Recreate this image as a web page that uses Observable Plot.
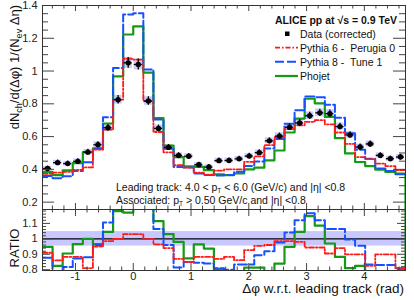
<!DOCTYPE html>
<html><head><meta charset="utf-8">
<script src="https://cdn.jsdelivr.net/npm/d3@7"></script>
<script src="https://cdn.jsdelivr.net/npm/@observablehq/plot@0.6"></script>
<style>
body{margin:0;background:#fff;}
#chart{position:relative;width:414px;height:300px;overflow:hidden;font-family:"Liberation Sans",Arial,sans-serif;}
#chart svg{position:absolute;left:0;}
</style></head><body><div id="chart"></div>
<script>
// ---- data ----
const nBins = 36;
const xMin = -Math.PI / 2, xMax = 3 * Math.PI / 2;
const dataVals = [0.405,0.441,0.435,0.449,0.505,0.550,0.654,0.825,1.050,1.040,0.817,0.650,0.534,0.485,0.480,0.428,0.414,0.453,0.454,0.464,0.481,0.502,0.574,0.603,0.657,0.683,0.727,0.745,0.740,0.661,0.610,0.536,0.555,0.485,0.465,0.475];
const dataErr = [0.015,0.016,0.016,0.016,0.017,0.018,0.020,0.026,0.033,0.033,0.026,0.020,0.018,0.017,0.017,0.016,0.016,0.016,0.016,0.016,0.017,0.017,0.018,0.019,0.020,0.021,0.022,0.022,0.022,0.020,0.019,0.018,0.018,0.017,0.016,0.017];
const pythia6 = [0.372,0.380,0.385,0.397,0.412,0.520,0.642,0.825,1.075,1.070,0.817,0.628,0.504,0.425,0.410,0.380,0.368,0.392,0.400,0.400,0.446,0.479,0.548,0.596,0.646,0.669,0.690,0.700,0.675,0.625,0.555,0.475,0.462,0.435,0.420,0.395];
const pythia8 = [0.360,0.345,0.358,0.390,0.444,0.525,0.718,1.018,1.345,1.353,1.010,0.705,0.525,0.415,0.412,0.375,0.365,0.362,0.365,0.385,0.420,0.448,0.528,0.585,0.679,0.760,0.845,0.840,0.795,0.715,0.620,0.520,0.465,0.405,0.390,0.370];
const phojet = [0.385,0.365,0.394,0.438,0.505,0.528,0.680,0.967,1.223,1.272,0.990,0.713,0.545,0.475,0.419,0.415,0.395,0.370,0.365,0.375,0.400,0.410,0.455,0.515,0.625,0.710,0.831,0.803,0.720,0.590,0.497,0.445,0.420,0.398,0.384,0.374];
const ratioP6 = [0.910,0.860,0.883,0.883,0.810,0.950,0.985,1.000,1.030,1.030,1.000,0.964,0.940,0.870,0.850,0.883,0.883,0.870,0.883,0.862,0.927,0.955,0.960,0.985,0.985,0.980,0.944,0.944,0.905,0.940,0.900,0.900,0.825,0.900,0.900,0.810];
const ratioP8 = [0.877,0.780,0.818,0.873,0.880,0.960,1.106,1.230,1.280,1.300,1.240,1.063,0.960,0.815,0.850,0.845,0.840,0.810,0.800,0.834,0.834,0.894,0.920,0.976,1.041,1.120,1.165,1.120,1.063,1.063,0.996,0.955,0.834,0.830,0.830,0.810];
const ratioPho = [0.948,0.825,0.905,0.966,1.000,0.966,1.045,1.180,1.170,1.220,1.210,1.115,1.030,0.980,0.873,0.964,0.937,0.805,0.785,0.785,0.814,0.814,0.790,0.840,0.948,1.045,1.147,1.085,0.970,0.883,0.810,0.825,0.785,0.785,0.785,0.785];
const sysRel = 0.032;      // data systematic box (relative)
const bandHalf = 0.047;    // ratio-panel band half width
const xTickLabels = [-1, 0, 1, 2, 3, 4];
const yTickTop = [0.2, 0.4, 0.6, 0.8, 1.0, 1.2, 1.4];
const yTickRatio = [0.8, 0.9, 1.0, 1.1];
const legendTitle = "ALICE pp at √s = 0.9 TeV";
const seriesNames = ["Data (corrected)", "Pythia 6 -  Perugia 0", "Pythia 8 -  Tune 1", "Phojet"];

// ---- styling ----
const FONT = '"Liberation Sans", Arial, Helvetica, sans-serif';
const RED = "#ff1a1a", BLUE = "#1650ff", GREEN = "#149a14", BOXC = "#c8c8ff";
const W = 414, ML = 42, MR = 9;
const FW = W - ML - MR;

const bw = (xMax - xMin) / nBins;
const bins = dataVals.map((v, i) => ({lo: xMin + i * bw, hi: xMin + (i + 1) * bw, c: xMin + (i + 0.5) * bw, v, e: dataErr[i]}));
function steps(vals, tail) {
  const pts = [];
  vals.forEach((v, i) => { pts.push({x: xMin + i * bw, y: v}); pts.push({x: xMin + (i + 1) * bw, y: v}); });
  if (tail !== undefined) pts.push({x: xMax, y: tail});
  return pts;
}
const fmt = d3.format("~g");
const xMinor = d3.range(-1.4, 4.75, 0.2).map(d => +d.toFixed(2)).filter(d => Math.abs(d - Math.round(d)) > 1e-6);
function tickMarks(fh, yMaj, yMin, lenMaj, lenMin, xLenMaj, xLenMin, col) {
  return [
    Plot.ruleY(yMaj, {y: d => d, insetRight: FW - lenMaj, stroke: col}),
    Plot.ruleY(yMaj, {y: d => d, insetLeft: FW - lenMaj, stroke: col}),
    Plot.ruleY(yMin, {y: d => d, insetRight: FW - lenMin, stroke: col}),
    Plot.ruleY(yMin, {y: d => d, insetLeft: FW - lenMin, stroke: col}),
    Plot.ruleX(xTickLabels, {x: d => d, insetBottom: fh - xLenMaj, stroke: col}),
    Plot.ruleX(xTickLabels, {x: d => d, insetTop: fh - xLenMaj, stroke: col}),
    Plot.ruleX(xMinor, {x: d => d, insetBottom: fh - xLenMin, stroke: col}),
    Plot.ruleX(xMinor, {x: d => d, insetTop: fh - xLenMin, stroke: col})
  ];
}

// ---- top panel ----
const topMinor = d3.range(0.25, 1.4, 0.05).map(d => +d.toFixed(2)).filter(d => Math.abs(d * 5 - Math.round(d * 5)) > 1e-6);
const topFH = 204;
const topPlot = Plot.plot({
  width: W, height: 212, marginLeft: ML, marginRight: MR, marginTop: 5, marginBottom: 3,
  x: {domain: [xMin, xMax], axis: null},
  y: {domain: [0.155, 1.4], axis: null},
  style: {fontFamily: FONT, background: "transparent", overflow: "visible"},
  marks: [
    Plot.rect(bins, {x1: "lo", x2: "hi", y1: d => d.v * (1 - sysRel), y2: d => d.v * (1 + sysRel), fill: BOXC, insetLeft: 1, insetRight: 1}),
    Plot.line(steps(phojet, 0), {x: "x", y: "y", stroke: GREEN, strokeWidth: 2.2, clip: true}),
    Plot.line(steps(pythia8), {x: "x", y: "y", stroke: BLUE, strokeWidth: 2, strokeDasharray: "9,3", clip: true}),
    Plot.line(steps(pythia6), {x: "x", y: "y", stroke: RED, strokeWidth: 1.8, strokeDasharray: "5,2,1.5,2", clip: true}),
    Plot.ruleY(bins, {x1: "lo", x2: "hi", y: "v", stroke: "black", strokeWidth: 1.3, insetLeft: 1, insetRight: 1}),
    Plot.ruleX(bins, {x: "c", y1: d => d.v - d.e, y2: d => d.v + d.e, stroke: "black", strokeWidth: 1.3}),
    Plot.dot(bins, {x: "c", y: "v", r: 2.7, fill: "black"}),
    ...tickMarks(topFH, yTickTop, topMinor, 12, 6, 6, 3.5, "#444"),
    Plot.frame({stroke: "#333"}),
    Plot.text(yTickTop, {y: d => d, text: d => fmt(d), frameAnchor: "left", textAnchor: "end", dx: -5, fontSize: 11, fill: "#222"})
  ]
});

// ---- ratio panel ----
const ratioMinor = d3.range(0.8, 1.19, 0.02).map(d => +d.toFixed(2)).filter(d => Math.abs(d * 10 - Math.round(d * 10)) > 1e-6);
const ratioFH = 61;
const ratioPlot = Plot.plot({
  width: W, height: 91, marginLeft: ML, marginRight: MR, marginTop: 0, marginBottom: 30,
  x: {domain: [xMin, xMax], axis: null},
  y: {domain: [0.795, 1.19], axis: null},
  style: {fontFamily: FONT, background: "transparent", overflow: "visible"},
  marks: [
    Plot.rect([1], {x1: xMin, x2: xMax, y1: d => d - bandHalf, y2: d => d + bandHalf, fill: BOXC}),
    Plot.ruleY([1], {stroke: "black", strokeWidth: 1.2}),
    Plot.line(steps(ratioPho, 2), {x: "x", y: "y", stroke: GREEN, strokeWidth: 2.2, clip: true}),
    Plot.line(steps(ratioP8), {x: "x", y: "y", stroke: BLUE, strokeWidth: 2, strokeDasharray: "9,3", clip: true}),
    Plot.line(steps(ratioP6), {x: "x", y: "y", stroke: RED, strokeWidth: 1.8, strokeDasharray: "5,2,1.5,2", clip: true}),
    ...tickMarks(ratioFH, yTickRatio, ratioMinor, 8, 4, 7, 3.5, "#444"),
    Plot.frame({stroke: "#333"}),
    Plot.text(yTickRatio, {y: d => d, text: d => fmt(d), frameAnchor: "left", textAnchor: "end", dx: -5, fontSize: 11, fill: "#222"}),
    Plot.text(xTickLabels, {x: d => d, text: d => String(d), frameAnchor: "bottom", dy: 9, fontSize: 11, fill: "#222"})
  ]
});

const root = document.getElementById("chart");
topPlot.style.top = "0px";
ratioPlot.style.top = "209px";
root.appendChild(topPlot);
root.appendChild(ratioPlot);

// ---- texts (titles, annotations, legend) ----
const ts = d3.select(topPlot);
const g = ts.append("g").attr("font-family", FONT).attr("fill", "#111").attr("text-anchor", "start");
const yt = g.append("text").attr("transform", "translate(19,5) rotate(-90)").attr("text-anchor", "end").attr("font-size", 13);
yt.append("tspan").text("dN");
yt.append("tspan").attr("font-size", 9).attr("dy", 3).text("ch");
yt.append("tspan").attr("dy", -3).text("/d(Δφ) 1/(N");
yt.append("tspan").attr("font-size", 9).attr("dy", 3).text("ev");
yt.append("tspan").attr("dy", -3).text(" Δη)");
function ptLine(y, pre, post) {
  const t = g.append("text").attr("x", 116).attr("y", y).attr("font-size", 10.5).attr("text-anchor", "start");
  t.append("tspan").text(pre + "p");
  t.append("tspan").attr("font-size", 6.5).attr("dy", 2).text("T");
  t.append("tspan").attr("dy", -2).text(post);
}
ptLine(191, "Leading track: 4.0 < ", " < 6.0 (GeV/c) and |η| <0.8");
ptLine(203.5, "Associated: ", " > 0.50 GeV/c and |η| <0.8");
g.append("text").attr("x", 275).attr("y", 24).attr("font-size", 10.5).attr("font-weight", "bold").attr("text-anchor", "start").text(legendTitle);
g.append("rect").attr("x", 285).attr("y", 31.5).attr("width", 4.5).attr("height", 4.5).attr("fill", "black");
const legY = [33.7, 47.7, 61.7, 76];
const legStyle = [null, {c: RED, d: "5,2,1.5,2", w: 1.8}, {c: BLUE, d: "9,3", w: 2}, {c: GREEN, d: null, w: 2.2}];
seriesNames.forEach((name, i) => {
  if (legStyle[i]) {
    g.append("line").attr("x1", 275).attr("x2", 298).attr("y1", legY[i]).attr("y2", legY[i])
      .attr("stroke", legStyle[i].c).attr("stroke-width", legStyle[i].w).attr("stroke-dasharray", legStyle[i].d);
  }
  g.append("text").attr("x", 300).attr("y", legY[i] + 3.8).attr("font-size", 10.5).attr("text-anchor", "start").text(name);
});

const rs = d3.select(ratioPlot);
const g2 = rs.append("g").attr("font-family", FONT).attr("fill", "#111");
g2.append("text").attr("transform", "translate(19,39) rotate(-90)").attr("text-anchor", "middle").attr("font-size", 13).text("RATIO");
g2.append("text").attr("x", 404).attr("y", 84).attr("text-anchor", "end").attr("font-size", 13.5).text("Δφ w.r.t. leading track (rad)");
</script></body></html>
